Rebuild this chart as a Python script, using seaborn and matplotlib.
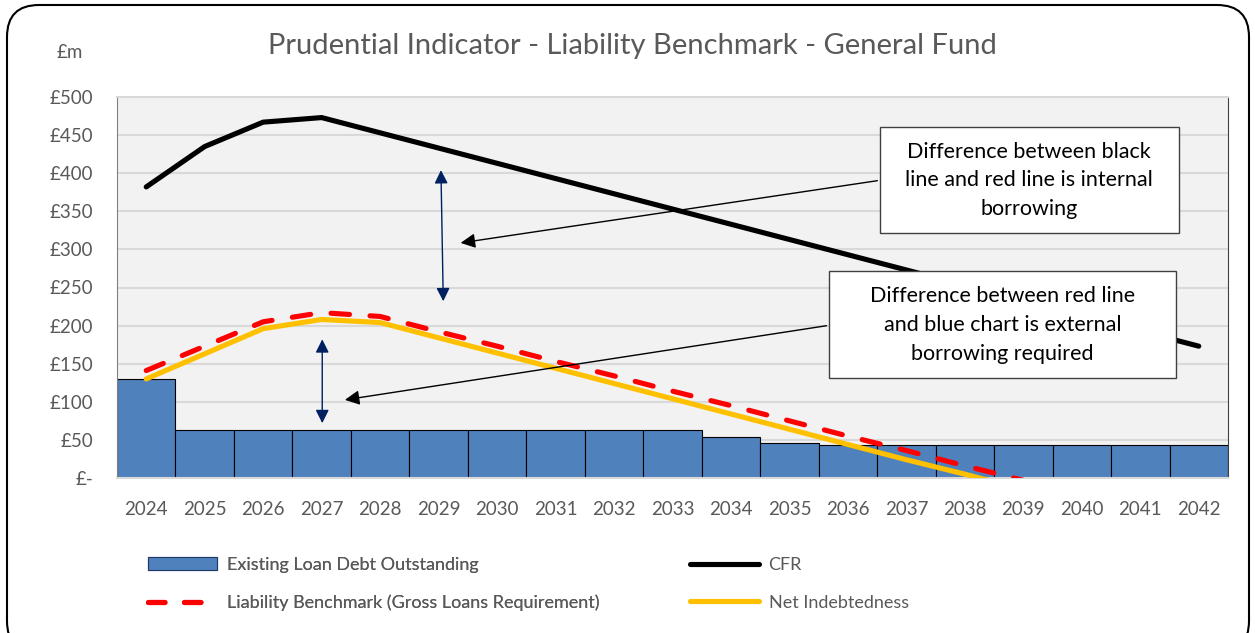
import numpy as np
import pandas as pd
import matplotlib.pyplot as plt
import seaborn as sns
from matplotlib.patches import Patch, Rectangle, FancyBboxPatch
from matplotlib.lines import Line2D
from matplotlib.ticker import MultipleLocator, FuncFormatter

# data (£m)
years = ["2024", "2025", "2026", "2027", "2028", "2029", "2030", "2031", "2032", "2033",
         "2034", "2035", "2036", "2037", "2038", "2039", "2040", "2041", "2042"]
existing_debt = [130, 63, 63, 63, 63, 63, 63, 63, 63, 63, 54, 46, 43, 43, 43, 43, 43, 43, 43]
cfr = [382, 435, 467, 473, 453, 433, 413, 393, 373, 353, 333, 313, 293, 273, 253, 233, 213, 193, 173]
# benchmark and net indebtedness drop below zero after 2038 (clipped at the axis)
liability_benchmark = [141, 173, 205, 217, 212, 192, 173, 153, 134, 114, 95, 75, 55, 36, 16, -3]
net_indebtedness = [130, 163, 196, 208, 204, 184, 164, 144, 124, 104, 84, 64, 44, 24, 5, -15]

sns.set_style("white")
plt.rcParams["font.family"] = ["Lato", "DejaVu Sans"]

GREY_TXT = "#595959"
BLUE = "#4F81BD"
NAVY = "#002060"
LW = 3.7

fig = plt.figure(figsize=(12.55, 6.33), dpi=100)
ax = fig.add_axes([117 / 1255, 1 - 478 / 633, 1111 / 1255, 381 / 633])
ax.set_facecolor("#F2F2F2")

df = pd.DataFrame({"year": years, "debt": existing_debt})
sns.barplot(data=df, x="year", y="debt", color=BLUE, saturation=1, width=1.0,
            edgecolor="black", linewidth=0.8, ax=ax, zorder=2)

sns.lineplot(x=range(len(cfr)), y=cfr, color="black", linewidth=LW, ax=ax, zorder=4,
             solid_capstyle="round", solid_joinstyle="round")
sns.lineplot(x=range(len(net_indebtedness)), y=net_indebtedness, color="#FFC000",
             linewidth=LW, ax=ax, zorder=4, solid_capstyle="round")
sns.lineplot(x=range(len(liability_benchmark)), y=liability_benchmark, color="#FF0000",
             linewidth=LW, linestyle=(0, (3.6, 4.0)), dash_capstyle="round", ax=ax, zorder=5)

ax.set_xlim(-0.5, len(years) - 0.5)
ax.set_ylim(0, 500)
ax.yaxis.set_major_locator(MultipleLocator(50))
ax.yaxis.set_major_formatter(FuncFormatter(lambda v, p: "£-" if v == 0 else f"£{v:.0f}"))
ax.set_xlabel("")
ax.set_ylabel("")
ax.yaxis.grid(True, color="#D9D9D9", linewidth=1.5)
ax.set_axisbelow(True)
ax.tick_params(axis="both", length=0, labelsize=13.5, labelcolor=GREY_TXT)
ax.tick_params(axis="x", pad=16.5)
ax.tick_params(axis="y", pad=17)
for side in ["top", "bottom"]:
    ax.spines[side].set_color("#D9D9D9")
    ax.spines[side].set_linewidth(1.5)
ax.spines["left"].set_color("#808080")
ax.spines["right"].set_color("#404040")

# annotation boxes
box_kw = dict(facecolor="white", edgecolor="#404040", linewidth=1, zorder=8)
ax.add_patch(Rectangle((12.55, 321), 5.11, 139, **box_kw))
ax.add_patch(Rectangle((11.68, 131), 5.93, 140, **box_kw))
ax.text(15.1, 390.5, "Difference between black\nline and red line is internal\nborrowing",
        ha="center", va="center", fontsize=15.5, color="black", linespacing=1.55, zorder=9)
ax.text(14.64, 200.5, "Difference between red line\nand blue chart is external\nborrowing required",
        ha="center", va="center", fontsize=15.5, color="black", linespacing=1.55, zorder=9)

# pointer arrows
ax.annotate("", xy=(5.33, 308), xytext=(12.55, 390.7),
            arrowprops=dict(arrowstyle="-|>", color="black", lw=1, mutation_scale=22), zorder=7)
ax.annotate("", xy=(3.35, 102), xytext=(11.68, 200.4),
            arrowprops=dict(arrowstyle="-|>", color="black", lw=1, mutation_scale=22), zorder=7)

# double-headed navy arrows
ax.annotate("", xy=(5.04, 404), xytext=(5.08, 232),
            arrowprops=dict(arrowstyle="<|-|>", color=NAVY, lw=1, mutation_scale=20,
                            shrinkA=0, shrinkB=0), zorder=7)
ax.annotate("", xy=(3.01, 182), xytext=(3.01, 72),
            arrowprops=dict(arrowstyle="<|-|>", color=NAVY, lw=1, mutation_scale=20,
                            shrinkA=0, shrinkB=0), zorder=7)

# titles
fig.text(632 / 1255, 1 - 46 / 633, "Prudential Indicator - Liability Benchmark - General Fund",
         ha="center", va="center", fontsize=21, color=GREY_TXT)
fig.text(70 / 1255, 1 - 52 / 633, "£m", ha="center", va="center", fontsize=13.5, color=GREY_TXT)

# legend in two columns
h_bar = Patch(facecolor=BLUE, edgecolor="#1F3864", linewidth=0.8)
h_red = Line2D([], [], color="#FF0000", lw=LW, linestyle=(0, (3.2, 3.8)), dash_capstyle="round")
h_cfr = Line2D([], [], color="black", lw=LW, solid_capstyle="round")
h_net = Line2D([], [], color="#FFC000", lw=LW, solid_capstyle="round")
leg_kw = dict(loc="upper left", frameon=False, fontsize=13, borderpad=0, borderaxespad=0,
              handlelength=3.8, handleheight=0.75, handletextpad=0.55, labelspacing=1.2,
              labelcolor=GREY_TXT)
leg1 = fig.legend([h_bar, h_red], ["Existing Loan Debt Outstanding",
                                   "Liability Benchmark (Gross Loans Requirement)"],
                  bbox_to_anchor=(148 / 1255, 1 - 557 / 633), **leg_kw)
fig.add_artist(leg1)
fig.legend([h_cfr, h_net], ["CFR", "Net Indebtedness"],
           bbox_to_anchor=(690 / 1255, 1 - 557 / 633), **leg_kw)

# rounded outer frame
frame = FancyBboxPatch((7, -20), 1242, 648, boxstyle="round,pad=0,rounding_size=32",
                       transform=None, facecolor="none", edgecolor="black", linewidth=1.5)
fig.add_artist(frame)

fig.savefig("out.png", dpi=100)
